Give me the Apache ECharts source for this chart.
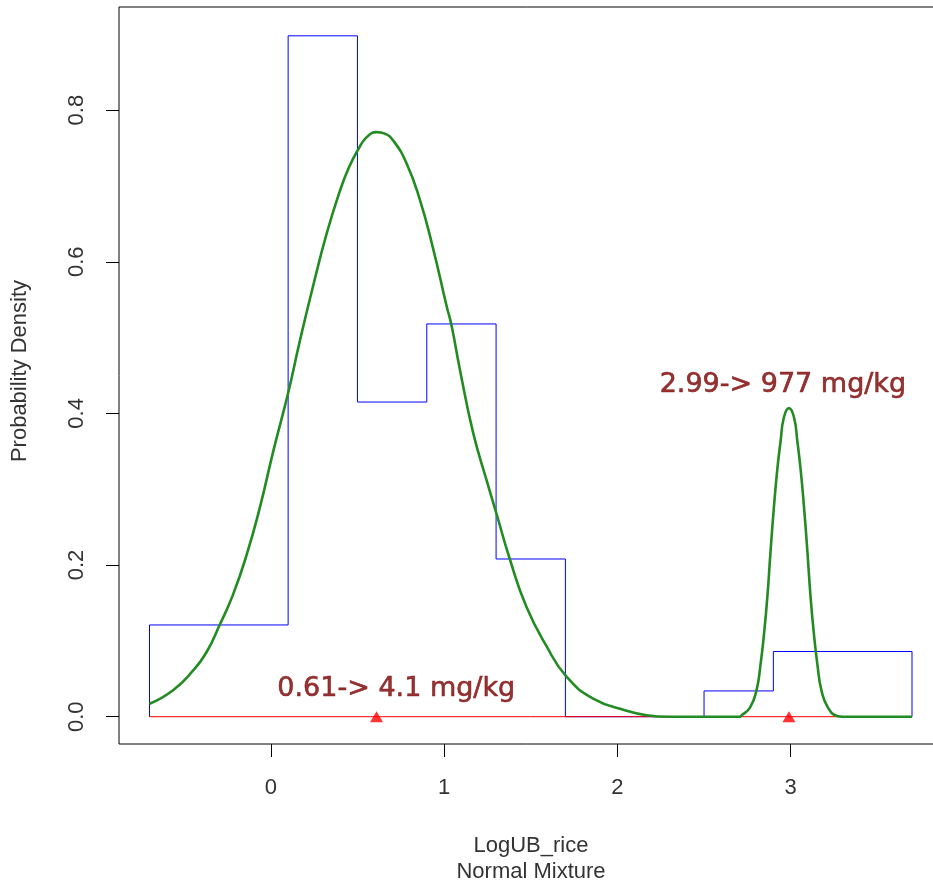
<!DOCTYPE html>
<html>
<head>
<meta charset="utf-8">
<script src="https://cdn.jsdelivr.net/npm/echarts@6/dist/echarts.min.js"></script>
<style>
html,body{margin:0;padding:0;background:#ffffff;}
#chart{width:933px;height:889px;}
</style>
</head>
<body>
<div id="chart"></div>
<script>
// Histogram (density scale): bin edges and densities
const binEdges = [-0.7, 0.1, 0.5, 0.9, 1.3, 1.7, 2.1, 2.5, 2.9, 3.7];
const binDensity = [0.121, 0.898, 0.415, 0.518, 0.208, 0, 0, 0.034, 0.086];

// Fitted normal mixture density
const curveX = [-0.70, -0.564, -0.448, -0.371, -0.294, -0.218, -0.140, -0.063, 0.013, 0.100,
  0.167, 0.244, 0.321, 0.398, 0.450, 0.504, 0.552, 0.610, 0.658, 0.706, 0.783, 0.860, 0.937,
  1.014, 1.043, 1.091, 1.167, 1.245, 1.302, 1.379, 1.475, 1.591, 1.706,
  1.860, 2.053, 2.168, 2.302, 2.706, 2.713, 2.765, 2.802, 2.826, 2.846,
  2.865, 2.884, 2.903, 2.922, 2.942, 2.961, 2.990, 3.019, 3.038, 3.058,
  3.077, 3.096, 3.115, 3.134, 3.154, 3.178, 3.215, 3.267, 3.300, 3.700];
const curveY = [0.017, 0.035, 0.061, 0.085, 0.1215, 0.161, 0.213, 0.276, 0.349, 0.427,
  0.495, 0.568, 0.636, 0.693, 0.724, 0.748, 0.764, 0.771, 0.769, 0.760, 0.730, 0.682, 0.617,
  0.542, 0.516, 0.458, 0.375, 0.312, 0.268, 0.208, 0.145, 0.093, 0.053,
  0.024, 0.008, 0.002, 0, 0, 0.001, 0.012, 0.034, 0.069, 0.109,
  0.157, 0.219, 0.276, 0.3245, 0.364, 0.395, 0.407, 0.395, 0.364, 0.3245,
  0.276, 0.219, 0.157, 0.109, 0.069, 0.034, 0.012, 0.001, 0, 0];

// Component means (marked with triangles)
const meanX = [0.61, 2.99];
const meanY = [0, 0];

// Annotations
const noteText = ['0.61-> 4.1 mg/kg', '2.99-> 977 mg/kg'];
const noteX = [0.724, 2.955];
const noteY = [0.0365, 0.437];

// Axis ticks
const xTicks = [0, 1, 2, 3];
const yTicks = [0, 0.2, 0.4, 0.6, 0.8];

// red baseline
const baseX = [-0.7, 3.7];

const stepData = [[binEdges[0], 0]];
for (let i = 0; i < binDensity.length; i++) {
  stepData.push([binEdges[i], binDensity[i]]);
  stepData.push([binEdges[i + 1], binDensity[i]]);
}
stepData.push([binEdges[binEdges.length - 1], 0]);

const curveData = curveX.map((x, i) => [x, curveY[i]]);
const meanData = meanX.map((x, i) => [x, meanY[i]]);
const noteData = noteX.map((x, i) => ({ value: [x, noteY[i]], name: noteText[i] }));
const baseData = baseX.map(x => [x, 0]);

const font = 'Liberation Sans, Arial, sans-serif';
const chart = echarts.init(document.getElementById('chart'), null, { renderer: 'canvas' });
chart.setOption({
  animation: false,
  backgroundColor: '#ffffff',
  grid: {
    left: 119, top: 7, width: 823.5, height: 737,
    show: true, borderColor: '#000000', borderWidth: 1, backgroundColor: 'transparent',
    containLabel: false, outerBoundsMode: 'none'
  },
  xAxis: {
    type: 'value', min: -0.876, max: 3.876,
    axisLine: { show: false, onZero: false },
    splitLine: { show: false },
    axisTick: { show: true, customValues: xTicks, length: 13, lineStyle: { color: '#000', width: 1 } },
    axisLabel: { customValues: xTicks, margin: 33, fontSize: 22, color: '#333', fontFamily: font,
      formatter: v => String(v) }
  },
  yAxis: {
    type: 'value', min: -0.036, max: 0.936,
    axisLine: { show: false, onZero: false },
    splitLine: { show: false },
    axisTick: { show: true, customValues: yTicks, length: 13, lineStyle: { color: '#000', width: 1 } },
    axisLabel: { customValues: yTicks, margin: 31, rotate: 90, fontSize: 22, color: '#333', fontFamily: font,
      formatter: v => v.toFixed(1) }
  },
  graphic: [
    { type: 'text', x: 531, y: 846, style: { text: 'LogUB_rice', font: '22px ' + font, fill: '#333', textAlign: 'center', textVerticalAlign: 'middle' } },
    { type: 'text', x: 531, y: 872, style: { text: 'Normal Mixture', font: '22px ' + font, fill: '#333', textAlign: 'center', textVerticalAlign: 'middle' } },
    { type: 'text', x: 20, y: 371, rotation: Math.PI / 2, style: { text: 'Probability Density', font: '22px ' + font, fill: '#333', textAlign: 'center', textVerticalAlign: 'middle' } }
  ],
  series: [
    { type: 'line', data: stepData, symbol: 'none', lineStyle: { color: '#0000ff', width: 1 }, z: 2 },
    { type: 'line', data: baseData, symbol: 'none', lineStyle: { color: '#ff0000', width: 1 }, z: 3 },
    { type: 'line', data: curveData, symbol: 'none', smooth: 0.5, lineStyle: { color: '#228b22', width: 2.6 }, z: 4 },
    { type: 'scatter', data: meanData, symbol: 'triangle', symbolSize: [13, 11], itemStyle: { color: '#ff0000' }, z: 5 },
    { type: 'scatter', data: noteData, symbolSize: 0, z: 6,
      label: { show: true, position: 'inside', formatter: p => p.name, color: '#7a0000',
        textBorderColor: '#7a0000', textBorderWidth: 0.6,
        fontSize: 27, fontFamily: 'DejaVu Sans, Verdana, sans-serif', align: 'center', verticalAlign: 'middle' } }
  ]
});
</script>
</body>
</html>
